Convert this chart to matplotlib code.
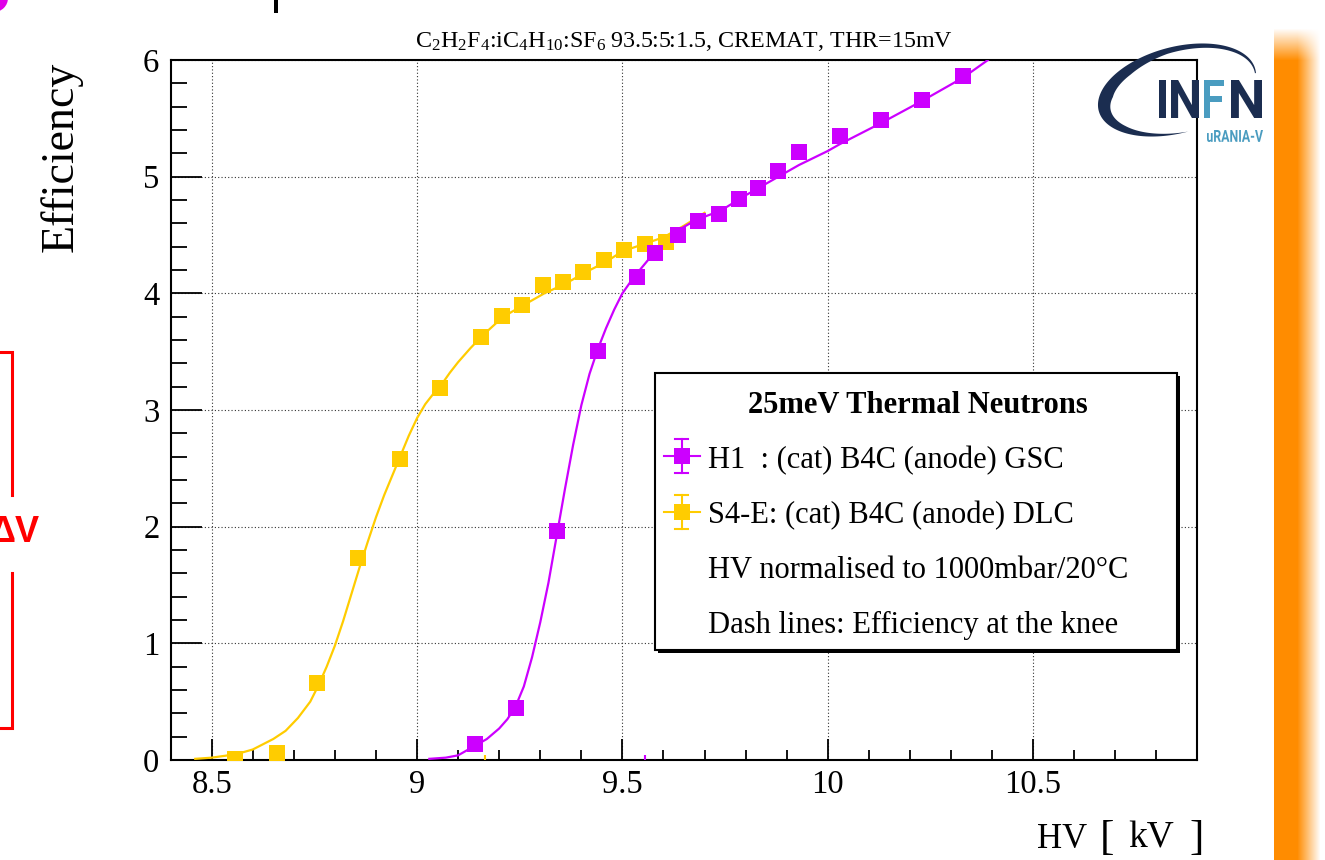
import numpy as np
import matplotlib
matplotlib.use("Agg")
import matplotlib.pyplot as plt
from matplotlib.patches import Rectangle, Polygon, PathPatch, Circle
from matplotlib.textpath import TextPath
from matplotlib.font_manager import FontProperties
from matplotlib.transforms import Affine2D

plt.rcParams["font.family"] = ["Liberation Serif", "DejaVu Serif"]
plt.rcParams["mathtext.fontset"] = "custom"
plt.rcParams["mathtext.rm"] = "Liberation Serif"
plt.rcParams["mathtext.it"] = "Liberation Serif:italic"

# measured points (HV in kV, efficiency)
h1_hv = [9.14, 9.24, 9.34, 9.44, 9.535, 9.58, 9.635, 9.685, 9.735, 9.785, 9.83, 9.88, 9.93, 10.03, 10.13, 10.23, 10.33]
h1_eff = [0.14, 0.45, 1.96, 3.51, 4.14, 4.35, 4.50, 4.62, 4.68, 4.81, 4.90, 5.05, 5.21, 5.35, 5.49, 5.66, 5.86]

s4_hv = [8.557, 8.658, 8.757, 8.857, 8.958, 9.057, 9.156, 9.207, 9.256, 9.307, 9.355, 9.405, 9.455, 9.505, 9.555, 9.605]
s4_eff = [0.01, 0.06, 0.66, 1.73, 2.58, 3.19, 3.63, 3.81, 3.90, 4.07, 4.10, 4.18, 4.29, 4.37, 4.42, 4.44]

# fit curves
fit_h1_hv = [9.03, 9.07, 9.10, 9.14, 9.17, 9.20, 9.22, 9.24, 9.26, 9.28, 9.30, 9.32, 9.34, 9.36, 9.38,
             9.40, 9.42, 9.44, 9.46, 9.48, 9.50, 9.52, 9.54, 9.58, 9.63, 9.68, 9.74, 9.80, 9.88, 9.93,
             10.00, 10.03, 10.13, 10.23, 10.33, 10.39]
fit_h1_eff = [0.01, 0.02, 0.04, 0.12, 0.18, 0.27, 0.35, 0.46, 0.63, 0.88, 1.18, 1.52, 1.92, 2.32, 2.70,
              3.04, 3.31, 3.52, 3.70, 3.86, 4.00, 4.10, 4.19, 4.36, 4.53, 4.63, 4.71, 4.84, 5.00, 5.10,
              5.22, 5.28, 5.46, 5.65, 5.85, 6.00]

fit_s4_hv = [8.46, 8.50, 8.56, 8.60, 8.65, 8.68, 8.71, 8.74, 8.76, 8.78, 8.80, 8.82, 8.84, 8.86, 8.88,
             8.90, 8.92, 8.94, 8.96, 8.98, 9.00, 9.02, 9.04, 9.06, 9.08, 9.10, 9.13, 9.16, 9.21, 9.26,
             9.31, 9.36, 9.41, 9.46, 9.50, 9.55, 9.60, 9.65, 9.70]
fit_s4_eff = [0.01, 0.02, 0.05, 0.09, 0.18, 0.25, 0.36, 0.50, 0.64, 0.80, 0.98, 1.19, 1.42, 1.65, 1.87,
              2.08, 2.27, 2.44, 2.61, 2.78, 2.93, 3.05, 3.14, 3.22, 3.32, 3.41, 3.53, 3.64, 3.80, 3.90,
              4.00, 4.08, 4.18, 4.27, 4.36, 4.42, 4.48, 4.58, 4.69]

knee_hv = [9.556, 9.165]

x_ticks = [8.5, 9, 9.5, 10, 10.5]
x_tick_labels = ["8.5", "9", "9.5", "10", "10.5"]
y_ticks = [0, 1, 2, 3, 4, 5, 6]

legend_header = "25meV Thermal Neutrons"
legend_lines = ["H1  : (cat) B4C (anode) GSC", "S4-E: (cat) B4C (anode) DLC",
                "HV normalised to 1000mbar/20°C", "Dash lines: Efficiency at the knee"]
title = r"C$_2$H$_2$F$_4$:iC$_4$H$_{10}$:SF$_6$ 93.5:5:1.5, CREMAT, THR=15mV"

magenta = "#CC00FF"
yellow = "#FFCC00"

W, H = 1325, 860
fig = plt.figure(figsize=(W / 100, H / 100), dpi=100)


def box(x0, y0, x1, y1):
    return [x0 / W, 1 - y1 / H, (x1 - x0) / W, (y1 - y0) / H]


ax = fig.add_axes(box(170.6, 60, 1197.4, 760))
ax.set_axisbelow(True)

ax.plot(fit_s4_hv, fit_s4_eff, color=yellow, lw=1.6, zorder=3)
ax.plot(s4_hv, s4_eff, "s", color=yellow, ms=12, mew=0, zorder=4)
ax.plot(fit_h1_hv, fit_h1_eff, color=magenta, lw=1.6, zorder=3)
ax.plot(h1_hv, h1_eff, "s", color=magenta, ms=12, mew=0, zorder=4)
ax.vlines(knee_hv, 0, 0.045, colors=[magenta, yellow], lw=1.5, zorder=3)

ax.set_xlim(8.4, 10.9)
ax.set_ylim(0, 6)
ax.set_xticks(x_ticks)
ax.set_xticklabels(x_tick_labels)
ax.set_yticks(y_ticks)
ax.set_xticks(np.arange(8.4, 10.91, 0.1), minor=True)
ax.set_yticks(np.arange(0, 6.01, 0.2), minor=True)
ax.tick_params(axis="x", which="major", direction="in", length=15, width=1.3, labelsize=23.5, pad=7)
ax.tick_params(axis="x", which="minor", direction="in", length=7.5, width=1.3)
ax.tick_params(axis="y", which="major", direction="in", length=22, width=1.3, labelsize=23.5, pad=8)
ax.tick_params(axis="y", which="minor", direction="in", length=11.5, width=1.3)
ax.grid(True, which="major", color="#333333", linestyle=(0, (1, 2)), linewidth=0.8)
for sp in ax.spines.values():
    sp.set_linewidth(1.5)

fig.text(415 / W, 1 - 47 / H, title, ha="left", va="baseline", fontsize=17.3)
fig.text(61 / W, 1 - 62 / H, "Efficiency", rotation=90, ha="center", va="top", fontsize=33)

# overlay in pixel coordinates for decorations
ov = fig.add_axes([0, 0, 1, 1])
ov.set_xlim(0, W)
ov.set_ylim(H, 0)
ov.axis("off")

# x axis title
ov.text(1037, 848, "HV", fontsize=25, ha="left", va="baseline")
ov.text(1100, 849, "[", fontsize=31, ha="left", va="baseline")
ov.text(1151, 848, "kV", fontsize=27, ha="center", va="baseline")
ov.text(1204, 849, "]", fontsize=31, ha="right", va="baseline")

# legend
ov.add_patch(Rectangle((658, 376), 522, 277, fc="black", ec="none"))
ov.add_patch(Rectangle((655, 373), 522, 277, fc="white", ec="black", lw=1.5))
ov.text(918, 413, legend_header, ha="center", va="baseline", fontsize=22, fontweight="bold")
for txt, yb in zip(legend_lines, [468, 523, 578, 633]):
    ov.text(708, yb, txt, ha="left", va="baseline", fontsize=22)
for yc, col in [(456, magenta), (511.5, yellow)]:
    ov.plot([664, 700], [yc, yc], color=col, lw=1.5)
    ov.plot([681.5, 681.5], [yc - 17, yc + 17], color=col, lw=1.5)
    ov.plot([675, 688], [yc - 17, yc - 17], color=col, lw=1.5)
    ov.plot([675, 688], [yc + 17, yc + 17], color=col, lw=1.5)
    ov.plot([681.5], [yc], "s", color=col, ms=12, mew=0)

# orange side bar
gx = np.arange(1273, 1326)
gy = np.arange(0, 861)
ax_alpha = np.interp(gx, [1273, 1274, 1297, 1320], [0, 1, 1, 0])
ay_alpha = np.interp(gy, [28, 60], [0, 1])
img = np.zeros((len(gy), len(gx), 4))
img[..., 0] = 1.0
img[..., 1] = 0.55
img[..., 2] = 0.0
img[..., 3] = ay_alpha[:, None] * ax_alpha[None, :]
ov.imshow(img, extent=(1273, 1326, 860, 0), aspect="auto", interpolation="bilinear", zorder=1)

# logo swoosh
navy = "#1b2d50"
lblue = "#4a9cc0"
cx, cy, a, b, phi = 1177, 90, 81, 43, np.deg2rad(-15)
t = np.linspace(np.pi / 2, 2.03 * np.pi, 200)
w = np.interp(t, np.array([0.5, 0.8, 1.1, 1.3, 1.5, 1.8, 2.03]) * np.pi, [0, 8, 14, 12, 7, 4, 1])


def ell(aa, bb):
    ex, ey = aa * np.cos(t), bb * np.sin(t)
    return cx + ex * np.cos(phi) - ey * np.sin(phi), cy + ex * np.sin(phi) + ey * np.cos(phi)


ox, oy = ell(a, b)
ix, iy = ell(a - w, b - w * 0.8)
pts = np.column_stack([np.concatenate([ox, ix[::-1]]), np.concatenate([oy, iy[::-1]])])
ov.add_patch(Polygon(pts, closed=True, fc=navy, ec="none", zorder=5))


def glyph(s, x0, x1, y0, y1, col, weight="bold"):
    tp = TextPath((0, 0), s, size=40, prop=FontProperties(family="Roboto", weight=weight))
    e = tp.get_extents()
    tr = (Affine2D().translate(-e.x0, -e.y0)
          .scale((x1 - x0) / e.width, -(y1 - y0) / e.height).translate(x0, y1))
    ov.add_patch(PathPatch(tr.transform_path(tp), fc=col, ec="none", zorder=6))


glyph("I", 1159, 1166, 80, 118, navy)
glyph("N", 1171, 1199, 80, 118, navy)
glyph("F", 1204, 1224, 80, 118, lblue)
glyph("N", 1231, 1262, 80, 118, navy)
glyph("uRANIA-V", 1207, 1263, 130, 142, lblue)

# left side annotations
red = "#FF0000"
ov.plot([0, 12, 12], [352, 352, 495], color=red, lw=2.2, solid_joinstyle="miter")
ov.plot([12, 12, 0], [573, 728, 728], color=red, lw=2.2, solid_joinstyle="miter")
ov.text(40, 532, "ΔV", color=red, fontsize=26, fontweight="bold", family=["Liberation Sans", "DejaVu Sans"],
        ha="right", va="center")
ov.add_patch(Circle((-6, -2), 14, fc="#E000E8", ec="none"))
ov.add_patch(Rectangle((274, 0), 4, 13, fc="black", ec="none"))

fig.savefig("out.png", dpi=100)
